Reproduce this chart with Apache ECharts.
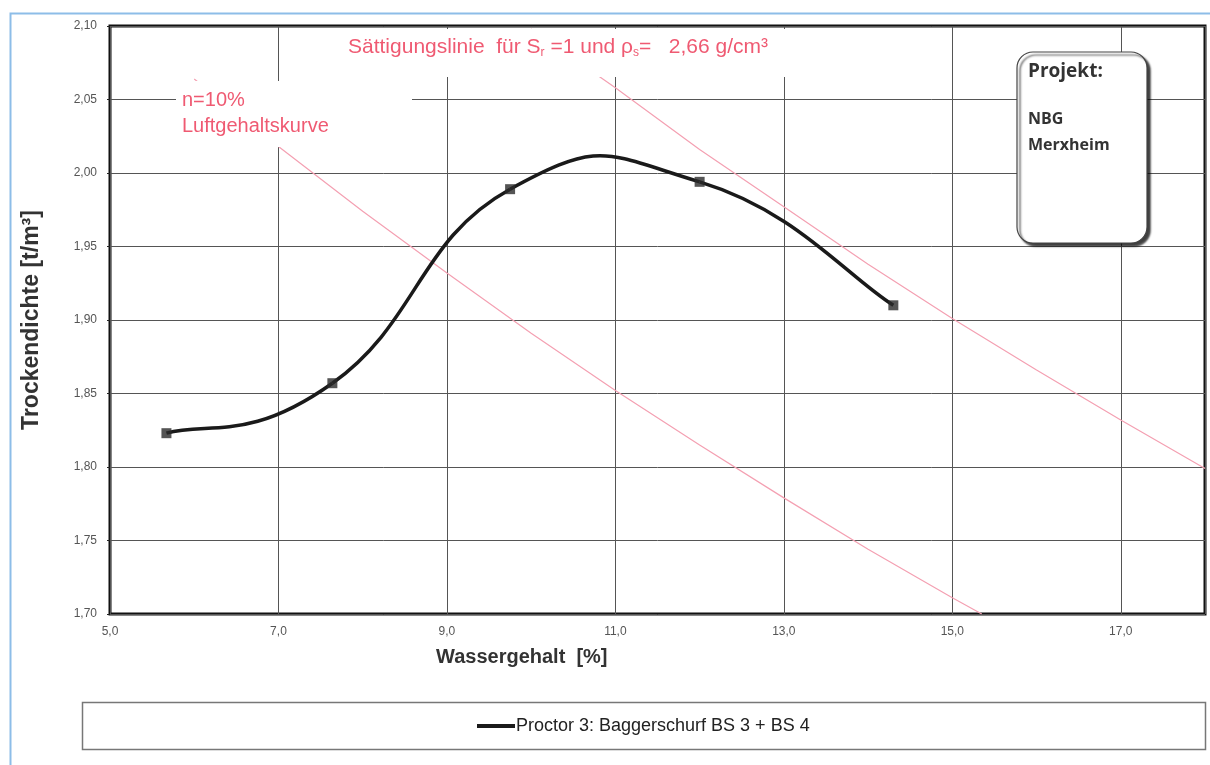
<!DOCTYPE html>
<html>
<head>
<meta charset="utf-8">
<script src="https://cdn.jsdelivr.net/npm/echarts@6/dist/echarts.min.js"></script>
<style>
  html, body { margin: 0; padding: 0; background: #fff; }
  #main { width: 1210px; height: 765px; }
</style>
</head>
<body>
<div id="main"></div>
<script>
// Proctorversuch: Messpunkte
var wasser = [5.67, 7.64, 9.75, 12.0, 14.3];
var dichte = [1.823, 1.857, 1.989, 1.994, 1.910];

// Saettigungslinie Sr=1, rho_s=2,66
var satW = [10.0, 11.0, 12.0, 13.0, 14.0, 15.0, 16.0, 17.0, 18.0];
var satRho = [2.098, 2.058, 2.016, 1.977, 1.938, 1.901, 1.866, 1.832, 1.799];

// Luftgehaltskurve n=10%
var luftW = [6.0, 7.0, 8.0, 9.0, 10.0, 11.0, 12.0, 13.0, 14.0, 15.0, 15.35];
var luftRho = [2.064, 2.018, 1.974, 1.932, 1.891, 1.852, 1.815, 1.779, 1.744, 1.711, 1.700];

var reihe = 'Proctor 3: Baggerschurf BS 3 + BS 4';
var rot = '#ef5a72';
var glatt = 0.25;

function paare(xs, ys) {
  return xs.map(function (x, i) { return [x, ys[i]]; });
}

// geglaettete Kurve wie im Excel-Diagramm, Segment fuer Segment
function kurve(params, api) {
  var i = params.dataIndex;
  if (i >= wasser.length - 1) return null;
  var p = wasser.map(function (w, k) { return api.coord([w, dichte[k]]); });
  var p0 = p[Math.max(i - 1, 0)], p1 = p[i], p2 = p[i + 1], p3 = p[Math.min(i + 2, p.length - 1)];
  return {
    type: 'bezierCurve',
    shape: {
      x1: p1[0], y1: p1[1], x2: p2[0], y2: p2[1],
      cpx1: p1[0] + (p2[0] - p0[0]) * glatt, cpy1: p1[1] + (p2[1] - p0[1]) * glatt,
      cpx2: p2[0] - (p3[0] - p1[0]) * glatt, cpy2: p2[1] - (p3[1] - p1[1]) * glatt
    },
    style: { stroke: '#1a1a1a', lineWidth: 3.5, fill: null }
  };
}

var chart = echarts.init(document.getElementById('main'));

var option = {
  backgroundColor: '#fff',
  animation: false,
  textStyle: { fontFamily: 'Liberation Sans' },
  grid: {
    show: true, left: 110, right: 5, top: 26, bottom: 151,
    borderColor: '#111', borderWidth: 3
  },
  legend: {
    data: [{ name: reihe, icon: 'rect' }],
    left: 477, top: 717, padding: 0,
    itemWidth: 38, itemHeight: 4,
    textStyle: { fontSize: 18, color: '#222', padding: [0, 0, 0, -4] }
  },
  xAxis: {
    type: 'value', min: 5, max: 18, interval: 2,
    axisLine: { show: false },
    axisTick: { show: false },
    splitLine: { lineStyle: { color: '#555', width: 1 } },
    axisLabel: {
      color: '#555', fontSize: 12, margin: 12, showMaxLabel: false,
      formatter: function (v) { return v.toFixed(1).replace('.', ','); }
    }
  },
  yAxis: {
    type: 'value', min: 1.70, max: 2.10, interval: 0.05,
    name: 'Trockendichte [t/m³]', nameLocation: 'middle', nameGap: 67,
    nameTextStyle: { fontSize: 23, fontWeight: 'bold', color: '#333' },
    axisLine: { show: false },
    axisTick: { show: true, length: 3, lineStyle: { color: '#222' } },
    splitLine: { lineStyle: { color: '#555', width: 1 } },
    axisLabel: {
      color: '#555', fontSize: 12, margin: 13,
      formatter: function (v) { return v.toFixed(2).replace('.', ','); }
    }
  },
  series: [
    {
      name: 'Sättigungslinie', type: 'line', data: paare(satW, satRho),
      showSymbol: false, silent: true, z: 3,
      lineStyle: { color: '#f4a0b2', width: 1.2 }
    },
    {
      name: 'Luftgehaltskurve', type: 'line', data: paare(luftW, luftRho),
      showSymbol: false, silent: true, z: 3,
      lineStyle: { color: '#f4a0b2', width: 1.2 }
    },
    {
      name: reihe, type: 'custom', renderItem: kurve,
      data: paare(wasser, dichte), encode: { x: 0, y: 1 },
      itemStyle: { color: '#1a1a1a' }, z: 4
    },
    {
      name: 'Messpunkte', type: 'scatter', data: paare(wasser, dichte),
      symbol: 'rect', symbolSize: 10, z: 5,
      itemStyle: { color: '#2b2b2b' }
    }
  ],
  graphic: [
    {
      type: 'rect', z: 0, silent: true,
      shape: { x: 10.5, y: 13.5, width: 1300, height: 900 },
      style: { fill: null, stroke: '#8dbde8', lineWidth: 2 }
    },
    {
      type: 'rect', z: 0, silent: true,
      shape: { x: 82.5, y: 702.5, width: 1123, height: 47 },
      style: { fill: null, stroke: '#777', lineWidth: 1.5 }
    },
    {
      type: 'text', z: 100, left: 436, top: 647,
      style: { text: 'Wassergehalt  [%]', font: 'bold 20px "Liberation Sans"', fill: '#333' }
    },
    {
      type: 'rect', z: 90, silent: true,
      shape: { x: 176, y: 81, width: 236, height: 66 },
      style: { fill: '#fff' }
    },
    {
      type: 'text', z: 100, left: 182, top: 87,
      style: {
        text: 'n=10%\nLuftgehaltskurve', font: '20px "Liberation Sans"',
        lineHeight: 26, fill: rot
      }
    },
    {
      type: 'rect', z: 90, silent: true,
      shape: { x: 340, y: 29, width: 530, height: 48 },
      style: { fill: '#fff' }
    },
    {
      type: 'text', z: 100, left: 348, top: 37,
      style: {
        text: '{a|Sättigungslinie  für S}{s|r}{a| =1 und ρ}{s|s}{a|=   2,66 g/cm³}',
        rich: {
          a: { fontSize: 21, fontFamily: 'Liberation Sans', fill: rot },
          s: { fontSize: 12, fontFamily: 'Liberation Sans', fill: rot, padding: [11, 0, 0, 0] }
        }
      }
    },
    {
      type: 'rect', z: 95, silent: true,
      shape: { x: 1017, y: 52, width: 130, height: 191, r: 16 },
      style: {
        fill: '#fff', stroke: '#444', lineWidth: 1.2,
        shadowColor: 'rgba(0,0,0,0.75)', shadowBlur: 2, shadowOffsetX: 3, shadowOffsetY: 3
      }
    },
    {
      type: 'text', z: 100, left: 1028, top: 62,
      style: { text: 'Projekt:', font: 'bold 19px "Open Sans"', fill: '#333' }
    },
    {
      type: 'text', z: 100, left: 1028, top: 106,
      style: { text: 'NBG\nMerxheim', font: 'bold 16px "Open Sans"', lineHeight: 26, fill: '#333' }
    }
  ]
};

chart.setOption(option);
</script>
</body>
</html>
